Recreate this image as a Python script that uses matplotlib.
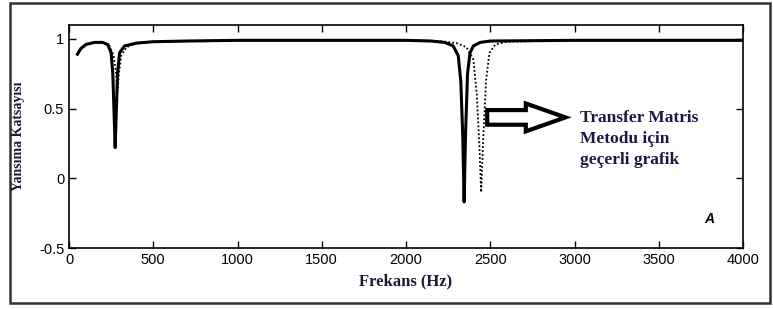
import matplotlib.pyplot as plt
from matplotlib.patches import FancyArrow, Rectangle

# solid curve
freq_solid = [50, 70, 100, 150, 200, 230, 250, 260, 268, 274, 280, 288, 300, 330, 400, 500,
              700, 1000, 1500, 2000, 2150, 2230, 2280, 2310, 2325, 2337, 2345, 2353, 2365, 2380,
              2400, 2440, 2500, 3000, 4000]
refl_solid = [0.89, 0.93, 0.96, 0.975, 0.975, 0.96, 0.90, 0.75, 0.45, 0.22, 0.45, 0.75, 0.90,
              0.95, 0.97, 0.98, 0.985, 0.99, 0.99, 0.99, 0.985, 0.975, 0.95, 0.88, 0.70, 0.30,
              -0.17, 0.30, 0.75, 0.90, 0.95, 0.975, 0.985, 0.99, 0.99]

# dotted curve
freq_dot = [50, 100, 150, 200, 240, 265, 280, 288, 296, 310, 340, 400, 500, 1000, 2000, 2200,
            2300, 2360, 2400, 2420, 2435, 2446, 2457, 2475, 2495, 2530, 2600, 3000, 4000]
refl_dot = [0.90, 0.96, 0.975, 0.975, 0.95, 0.88, 0.75, 0.62, 0.75, 0.88, 0.94, 0.97, 0.98,
            0.99, 0.99, 0.985, 0.97, 0.94, 0.85, 0.60, 0.25, -0.10, 0.25, 0.70, 0.90, 0.96,
            0.98, 0.99, 0.99]

xticks = [0, 500, 1000, 1500, 2000, 2500, 3000, 3500, 4000]
yticks = [-0.5, 0, 0.5, 1]
ytick_labels = ['-0.5', '0', '0.5', '1']

fig = plt.figure(figsize=(7.73, 3.09), dpi=100)
ax = fig.add_axes([69 / 773, 1 - 248 / 309, 674 / 773, 223 / 309])

ax.plot(freq_dot, refl_dot, color='black', lw=1.3, ls=(0, (1, 1.2)))
ax.plot(freq_solid, refl_solid, color='black', lw=2.2)

ax.set_xlim(0, 4000)
ax.set_ylim(-0.5, 1.1)
ax.set_xticks(xticks)
ax.set_yticks(yticks)
ax.set_yticklabels(ytick_labels)
ax.tick_params(direction='in', top=True, right=True, length=5, width=1, labelsize=10.5)
for lab in ax.get_xticklabels() + ax.get_yticklabels():
    lab.set_family('Liberation Sans')
for s in ax.spines.values():
    s.set_linewidth(1.2)

ax.set_xlabel('Frekans (Hz)', family='Liberation Serif', weight='bold', fontsize=12,
              color='#1a1a33', labelpad=5)
ax.set_ylabel('Yansıma Katsayısı', family='Liberation Serif', weight='bold', fontsize=10,
              color='#1a1a33', labelpad=10)

# hollow arrow
arr = FancyArrow(2482, 0.437, 464, 0, width=0.105, head_width=0.2, head_length=235,
                 length_includes_head=True, facecolor='white', edgecolor='black', lw=3)
ax.add_patch(arr)

ax.text(3030, 0.49, 'Transfer Matris\nMetodu için\ngeçerli grafik', family='Liberation Serif',
        weight='bold', fontsize=12.5, color='#1a1a40', va='top', ha='left', linespacing=1.4)
ax.text(3800, -0.29, 'A', family='Liberation Sans', weight='bold', style='italic',
        fontsize=10, ha='center', va='center')

# outer frame
fig.patches.append(Rectangle((10 / 773, 6 / 309), 760 / 773, 300 / 309, transform=fig.transFigure,
                             fill=False, edgecolor='#333333', lw=1.8))

fig.savefig('out.png', dpi=100)
